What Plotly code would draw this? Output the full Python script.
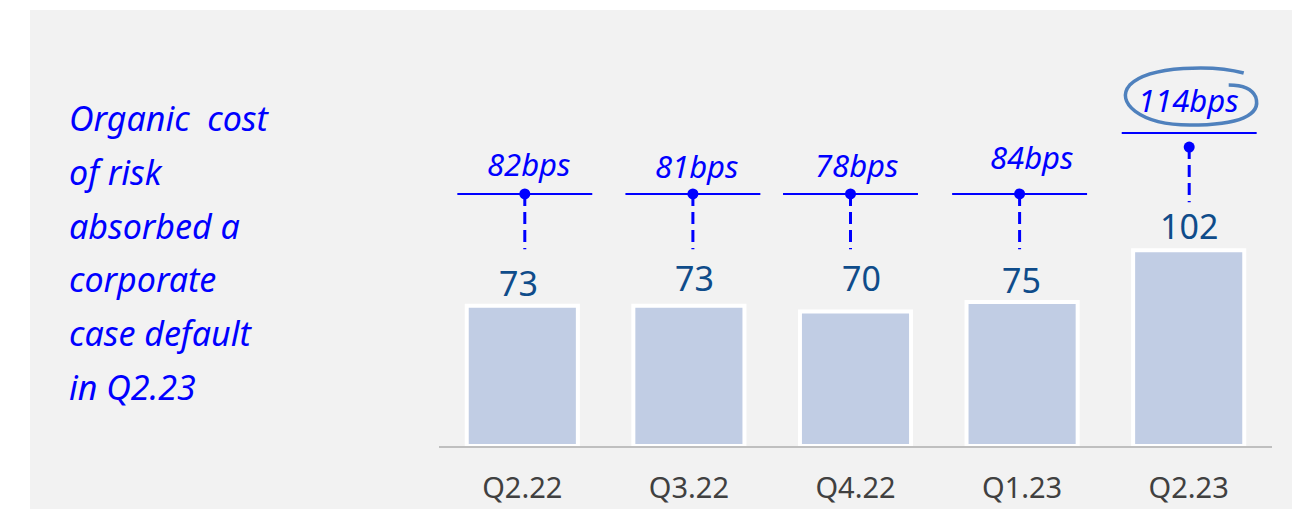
import plotly.graph_objects as go

# ---------------- data ----------------
categories = ["Q2.22", "Q3.22", "Q4.22", "Q1.23", "Q2.23"]
bar_values = [73, 73, 70, 75, 102]
cost_of_risk_bps = [82, 81, 78, 84, 114]
side_note_lines = ["Organic\u00a0\u00a0cost", "of risk", "absorbed a", "corporate", "case default", "in Q2.23"]
highlight_category = "Q2.23"

# ---------------- layout constants ----------------
W, H = 1292, 510
L, R, T, B = 439, 20, 14, 64
Y_MAX = 225
PLOT_W = W - L - R
PLOT_H = H - T - B
CAT_PX = PLOT_W / len(categories)

LEVEL_NORMAL = 131.3      # y (axis units) of the bps marker line
LEVEL_HIGH = 163.0
DOT_DROP_HIGH = 7.3
DASH_BOTTOM_NORMAL = 102.5
DASH_BOTTOM_HIGH = 127.0

# hand-placement nudges of the original slide (pixels)
MARKER_NUDGE_X = [2.5, 4, -5, -2.5, 0.5]
BPS_LABEL_NUDGE_X = [6.5, 7.5, 1, 9.5, 0]
BPS_LABEL_LIFT = [30, 28, 29, 37, 33]
VALUE_LABEL_NUDGE_X = [-4, 6, 5.5, -1, 0]
VALUE_LABEL_LIFT = [23, 28, 34, 22, 24]

BLUE = "#0000FF"
VALUE_COLOR = "#0F4C8A"
BAR_COLOR = "#C1CDE4"
PANEL = "#F2F2F2"
FONT = "Noto Sans"


def px_to_paper(px, py):
    return (px - L) / PLOT_W, (H - B - py) / PLOT_H


def y_to_px(y):
    return H - B - y / Y_MAX * PLOT_H


def cat_to_px(i):
    return L + (i + 0.5) * CAT_PX


levels, dots, dash_bottoms = [], [], []
for c in categories:
    if c == highlight_category:
        levels.append(LEVEL_HIGH)
        dots.append(LEVEL_HIGH - DOT_DROP_HIGH)
        dash_bottoms.append(DASH_BOTTOM_HIGH)
    else:
        levels.append(LEVEL_NORMAL)
        dots.append(LEVEL_NORMAL)
        dash_bottoms.append(DASH_BOTTOM_NORMAL)

marker_x = [i + MARKER_NUDGE_X[i] / CAT_PX for i in range(len(categories))]

fig = go.Figure()

fig.add_trace(go.Bar(
    x=categories, y=bar_values, width=0.667,
    marker=dict(color=BAR_COLOR, line=dict(color="white", width=4)),
    hoverinfo="skip", cliponaxis=False,
))

fig.add_trace(go.Scatter(
    x=marker_x, y=dots, mode="markers", xaxis="x2", yaxis="y",
    marker=dict(color=BLUE, size=11), hoverinfo="skip", cliponaxis=False,
))

shapes = []
# grey panel
px0, py0 = px_to_paper(30, 509)
px1, py1 = px_to_paper(1300, 10)
shapes.append(dict(type="rect", xref="paper", yref="paper", x0=px0, x1=px1, y0=py0, y1=py1,
                   fillcolor=PANEL, line=dict(width=0), layer="below"))

annotations = []
for i, c in enumerate(categories):
    mx = marker_x[i]
    shapes.append(dict(type="line", xref="x2", yref="y", x0=mx - 0.405, x1=mx + 0.405,
                       y0=levels[i], y1=levels[i], line=dict(color=BLUE, width=2)))
    shapes.append(dict(type="line", xref="x2", yref="y", x0=mx, x1=mx,
                       y0=dots[i], y1=dash_bottoms[i], line=dict(color=BLUE, width=3, dash="12px,6px")))
    annotations.append(dict(x=c, y=levels[i], xref="x", yref="y", text=f"{cost_of_risk_bps[i]}bps",
                            showarrow=False, yanchor="middle", yshift=BPS_LABEL_LIFT[i],
                            xshift=BPS_LABEL_NUDGE_X[i],
                            font=dict(family=FONT, size=31, color=BLUE, style="italic")))
    annotations.append(dict(x=c, y=bar_values[i], xref="x", yref="y", text=str(bar_values[i]),
                            showarrow=False, yanchor="middle", yshift=VALUE_LABEL_LIFT[i],
                            xshift=VALUE_LABEL_NUDGE_X[i],
                            font=dict(family=FONT, size=34, color=VALUE_COLOR)))

# hand-drawn ellipse around highlighted label
hi = categories.index(highlight_category)
cx = cat_to_px(hi) + 1
cy = y_to_px(LEVEL_HIGH) - 36
rel = [("M", [(54, -24)]),
       ("C", [(25, -32), (-40, -32), (-60, -12)]),
       ("C", [(-75, 5), (-50, 28), (0, 28)]),
       ("C", [(50, 28), (72, 18), (66, 0)]),
       ("C", [(62, -9), (52, -12), (39, -12)])]
path = ""
for cmd, pts in rel:
    path += cmd + " " + " ".join("{:.5f},{:.5f}".format(*px_to_paper(cx + dx, cy + dy)) for dx, dy in pts) + " "
shapes.append(dict(type="path", xref="paper", yref="paper", path=path.strip(),
                   line=dict(color="#4F81BD", width=3.5)))

# side note
for k, line in enumerate(side_note_lines):
    xp, yp = px_to_paper(67, 118 + k * 53.8)
    annotations.append(dict(x=xp, y=yp, xref="paper", yref="paper", text=line, showarrow=False,
                            xanchor="left", yanchor="middle",
                            font=dict(family=FONT, size=34, color=BLUE, style="italic")))

fig.update_layout(
    width=W, height=H, margin=dict(l=L, r=R, t=T, b=B, autoexpand=False),
    paper_bgcolor="white", plot_bgcolor="rgba(0,0,0,0)",
    showlegend=False, shapes=shapes, annotations=annotations,
    xaxis=dict(range=[-0.5, len(categories) - 0.5], showline=True, linecolor="#BFBFBF", linewidth=2,
               showgrid=False, zeroline=False, ticks="", ticklabelstandoff=15, automargin=False,
               tickfont=dict(family=FONT, size=29, color="#404040"), fixedrange=True),
    xaxis2=dict(range=[-0.5, len(categories) - 0.5], overlaying="x", visible=False,
                fixedrange=True, automargin=False),
    yaxis=dict(range=[0, Y_MAX], visible=False, fixedrange=True, automargin=False),
)

fig.write_html("out.html", config={"displayModeBar": False, "staticPlot": True},
               post_script="document.body.style.margin='0';document.body.style.overflow='hidden';")
